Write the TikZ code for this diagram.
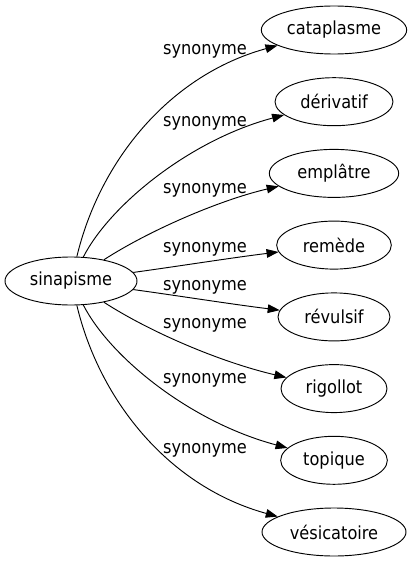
\documentclass[tikz,border=0pt]{standalone}
\usepackage{fontspec}
\setmainfont{DejaVu Sans}[FakeStretch=0.9]
\usepackage{tikz}
\usetikzlibrary{arrows.meta,shapes.geometric}
\tikzset{
  mot/.style={ellipse,draw=black,line width=0.7pt,inner sep=0pt,
    minimum height=36pt,font=\fontsize{13.5}{16}\selectfont},
  lien/.style={-{Triangle[length=9pt,width=6.5pt]},line width=0.7pt,black},
  etiq/.style={inner sep=0pt,font=\fontsize{13.5}{16}\selectfont}
}

\begin{document}
\begin{tikzpicture}[x=0.75pt,y=-0.75pt]
  \useasboundingbox (0,0) rectangle (412,563);
  \node[mot,minimum width=99pt] (sinapisme) at (71,281) {sinapisme};
  \foreach \nom/\txt/\yy/\lw in {cataplasme/cataplasme/30/109,
      derivatif/dérivatif/101.7/88.5,emplatre/emplâtre/173.4/97,
      remede/remède/245.1/86,revulsif/révulsif/316.9/84,
      rigollot/rigollot/388.6/79.5,topique/topique/460.3/80,
      vesicatoire/vésicatoire/532/108}
    {\node[mot,minimum width=\lw pt] (\nom) at (334,\yy) {\txt};}
  % liens synonyme
  \foreach \nom/\ax/\ay/\bx/\by/\ly [count=\i] in {cataplasme/100/160/170/75/51,
      derivatif/110/205/190/140/123,emplatre/150/230/220/200/190,
      remede/180/266/230/258/249,revulsif/180/296/230/304/287,
      rigollot/150/332/220/362/325,topique/110/357/190/422/380,
      vesicatoire/100/402/170/487/450}
    {\draw[lien] (sinapisme) .. controls (\ax,\ay) and (\bx,\by) .. (\nom);
     \node[etiq] (syn\i) at (205,\ly) {synonyme};}
\end{tikzpicture}
\end{document}
